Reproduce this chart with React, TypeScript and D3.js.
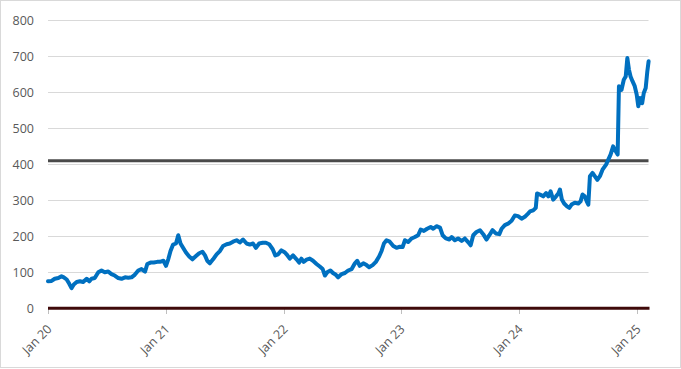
import React from 'react';
import * as d3 from 'd3';

// Price readings (date, value)
const dates = [
  // 2020
  '2020-01-01', '2020-01-12', '2020-01-22', '2020-02-02', '2020-02-12', '2020-02-19', '2020-02-28',
  '2020-03-07', '2020-03-14', '2020-03-21', '2020-03-30', '2020-04-09', '2020-04-19', '2020-04-30',
  '2020-05-08', '2020-05-15', '2020-05-25', '2020-06-05', '2020-06-15', '2020-06-25', '2020-07-06',
  '2020-07-16', '2020-07-26', '2020-08-06', '2020-08-16', '2020-08-27', '2020-09-06', '2020-09-16',
  '2020-09-26', '2020-10-07', '2020-10-17', '2020-10-28', '2020-11-04', '2020-11-14', '2020-11-24',
  '2020-12-05', '2020-12-13', '2020-12-24',
  // 2021
  '2021-01-01', '2021-01-08', '2021-01-15', '2021-01-23', '2021-02-01', '2021-02-08', '2021-02-15',
  '2021-02-23', '2021-03-04', '2021-03-14', '2021-03-24', '2021-04-04', '2021-04-14', '2021-04-24',
  '2021-05-02', '2021-05-09', '2021-05-17', '2021-05-27', '2021-06-07', '2021-06-17', '2021-06-27',
  '2021-07-08', '2021-07-18', '2021-07-28', '2021-08-08', '2021-08-18', '2021-08-28', '2021-09-08',
  '2021-09-18', '2021-09-28', '2021-10-07', '2021-10-17', '2021-10-28', '2021-11-07', '2021-11-17',
  '2021-11-28', '2021-12-06', '2021-12-15', '2021-12-25',
  // 2022
  '2022-01-05', '2022-01-10', '2022-01-20', '2022-01-30', '2022-02-10', '2022-02-18', '2022-02-25',
  '2022-03-04', '2022-03-13', '2022-03-23', '2022-04-02', '2022-04-13', '2022-04-23', '2022-05-02',
  '2022-05-09', '2022-05-16', '2022-05-26', '2022-06-03', '2022-06-12', '2022-06-19', '2022-06-30',
  '2022-07-10', '2022-07-20', '2022-07-31', '2022-08-10', '2022-08-17', '2022-08-25', '2022-09-05',
  '2022-09-15', '2022-09-23', '2022-10-04', '2022-10-14', '2022-10-24', '2022-11-01', '2022-11-08',
  '2022-11-16', '2022-11-26', '2022-12-07', '2022-12-17', '2022-12-27',
  // 2023
  '2023-01-05', '2023-01-12', '2023-01-22', '2023-02-02', '2023-02-12', '2023-02-22', '2023-03-02',
  '2023-03-12', '2023-03-22', '2023-04-02', '2023-04-10', '2023-04-20', '2023-05-01', '2023-05-09',
  '2023-05-19', '2023-05-30', '2023-06-06', '2023-06-16', '2023-06-26', '2023-07-07', '2023-07-17',
  '2023-07-27', '2023-08-04', '2023-08-12', '2023-08-22', '2023-09-02', '2023-09-12', '2023-09-22',
  '2023-10-01', '2023-10-11', '2023-10-21', '2023-11-01', '2023-11-08', '2023-11-18', '2023-11-28',
  '2023-12-09', '2023-12-19', '2023-12-29',
  // 2024
  '2024-01-09', '2024-01-19', '2024-01-29', '2024-02-04', '2024-02-14', '2024-02-22', '2024-02-26',
  '2024-03-06', '2024-03-16', '2024-03-25', '2024-04-01', '2024-04-08', '2024-04-16', '2024-04-25',
  '2024-05-02', '2024-05-07', '2024-05-13', '2024-05-20', '2024-05-29', '2024-06-05', '2024-06-12',
  '2024-06-22', '2024-07-03', '2024-07-10', '2024-07-16', '2024-07-23', '2024-07-29', '2024-08-03',
  '2024-08-08', '2024-08-16', '2024-08-23', '2024-08-31', '2024-09-08', '2024-09-16', '2024-09-27',
  '2024-10-04', '2024-10-11', '2024-10-19', '2024-10-27', '2024-11-02', '2024-11-06', '2024-11-14',
  '2024-11-21', '2024-11-27', '2024-12-02', '2024-12-07', '2024-12-12', '2024-12-18', '2024-12-25',
  '2024-12-31',
  // 2025
  '2025-01-05', '2025-01-10', '2025-01-17', '2025-01-22', '2025-01-28', '2025-02-02', '2025-02-06',
];

const prices = [
  // 2020
  75, 76, 82, 84, 89, 86, 80,
  68, 56, 66, 73, 75, 73, 82,
  75, 82, 84, 100, 105, 100, 102,
  95, 91, 84, 82, 86, 85, 86,
  93, 105, 109, 102, 123, 127, 127,
  129, 129, 132,
  // 2021
  118, 136, 159, 177, 180, 203, 180,
  168, 155, 144, 136, 145, 153, 157,
  147, 132, 125, 136, 150, 159, 173,
  178, 180, 185, 189, 183, 191, 180,
  177, 180, 168, 180, 182, 182, 178,
  164, 147, 150, 161,
  // 2022
  155, 150, 138, 147, 136, 127, 138,
  129, 135, 138, 132, 123, 116, 109,
  91, 100, 105, 98, 93, 86, 95,
  98, 105, 109, 125, 132, 118, 125,
  120, 114, 120, 129, 144, 160, 180,
  189, 185, 173, 168, 171,
  // 2023
  170, 189, 184, 194, 198, 203, 219,
  215, 221, 226, 221, 228, 224, 203,
  194, 191, 198, 189, 194, 187, 194,
  184, 175, 203, 212, 217, 206, 191,
  203, 217, 208, 206, 221, 231, 235,
  243, 258, 256,
  // 2024
  249, 254, 263, 269, 272, 279, 319,
  316, 311, 320, 311, 325, 302, 311,
  319, 330, 302, 291, 283, 279, 288,
  293, 291, 297, 316, 311, 297, 288,
  367, 376, 367, 357, 367, 385, 399,
  413, 427, 450, 436, 427, 617, 607,
  635, 644, 695, 663, 644, 631, 617,
  594,
  // 2025
  561, 584, 570, 598, 612, 658, 686,
];

const yTicks = [0, 100, 200, 300, 400, 500, 600, 700, 800];
const xTickDates = ['2020-01-01', '2021-01-01', '2022-01-01', '2023-01-01', '2024-01-01', '2025-01-01'];
const thresholdValue = 410;

const WIDTH = 681;
const HEIGHT = 369;
const FONT = '"Open Sans", "Liberation Sans", sans-serif';

const parse = d3.timeParse('%Y-%m-%d');
const fmt = d3.timeFormat('%b %y');

export default function App() {
  const x = d3.scaleTime()
    .domain([parse('2020-01-01'), parse('2025-01-01')])
    .range([48, 637]);
  const y = d3.scaleLinear().domain([0, 800]).range([308.3, 20.3]);

  const plotLeft = 48;
  const plotRight = 648.5;

  const points = dates.map((d, i) => ({ date: parse(d), value: prices[i] }));
  const line = d3.line<{ date: Date; value: number }>()
    .x((d) => x(d.date))
    .y((d) => y(d.value));

  return (
    <svg width={WIDTH} height={HEIGHT} style={{ position: 'absolute', left: 0, top: 0, background: '#fff' }}>
      <rect x={0.5} y={0.5} width={680} height={367} fill="#fff" stroke="#d9d9d9" />

      {/* gridlines + y labels */}
      {yTicks.map((t) => (
        <g key={t}>
          {t > 0 && (
            <line x1={plotLeft} x2={plotRight} y1={Math.round(y(t)) + 0.5} y2={Math.round(y(t)) + 0.5}
              stroke="#d9d9d9" strokeWidth={1} />
          )}
          <text x={34} y={y(t)} dy="0.35em" textAnchor="end" fontFamily={FONT} fontSize={12.5} fill="#595959">
            {t}
          </text>
        </g>
      ))}

      {/* x ticks + rotated labels */}
      {xTickDates.map((s) => {
        const tx = Math.round(x(parse(s))) + 0.5;
        return (
          <g key={s}>
            <line x1={tx} x2={tx} y1={309} y2={314} stroke="#bfbfbf" strokeWidth={1} />
            <text transform={`translate(${tx + 4},330) rotate(-45)`} textAnchor="end"
              fontFamily={FONT} fontSize={12.5} fill="#595959">
              {fmt(parse(s))}
            </text>
          </g>
        );
      })}

      {/* threshold line */}
      <line x1={plotLeft} x2={plotRight} y1={y(thresholdValue)} y2={y(thresholdValue)}
        stroke="#4a4a4a" strokeWidth={3} />

      {/* zero line */}
      <line x1={plotLeft} x2={plotRight + 1} y1={y(0)} y2={y(0)} stroke="#3f0a0a" strokeWidth={3} />

      {/* price series */}
      <path d={line(points) || ''} fill="none" stroke="#0070c0" strokeWidth={4}
        strokeLinejoin="round" strokeLinecap="round" />
    </svg>
  );
}
